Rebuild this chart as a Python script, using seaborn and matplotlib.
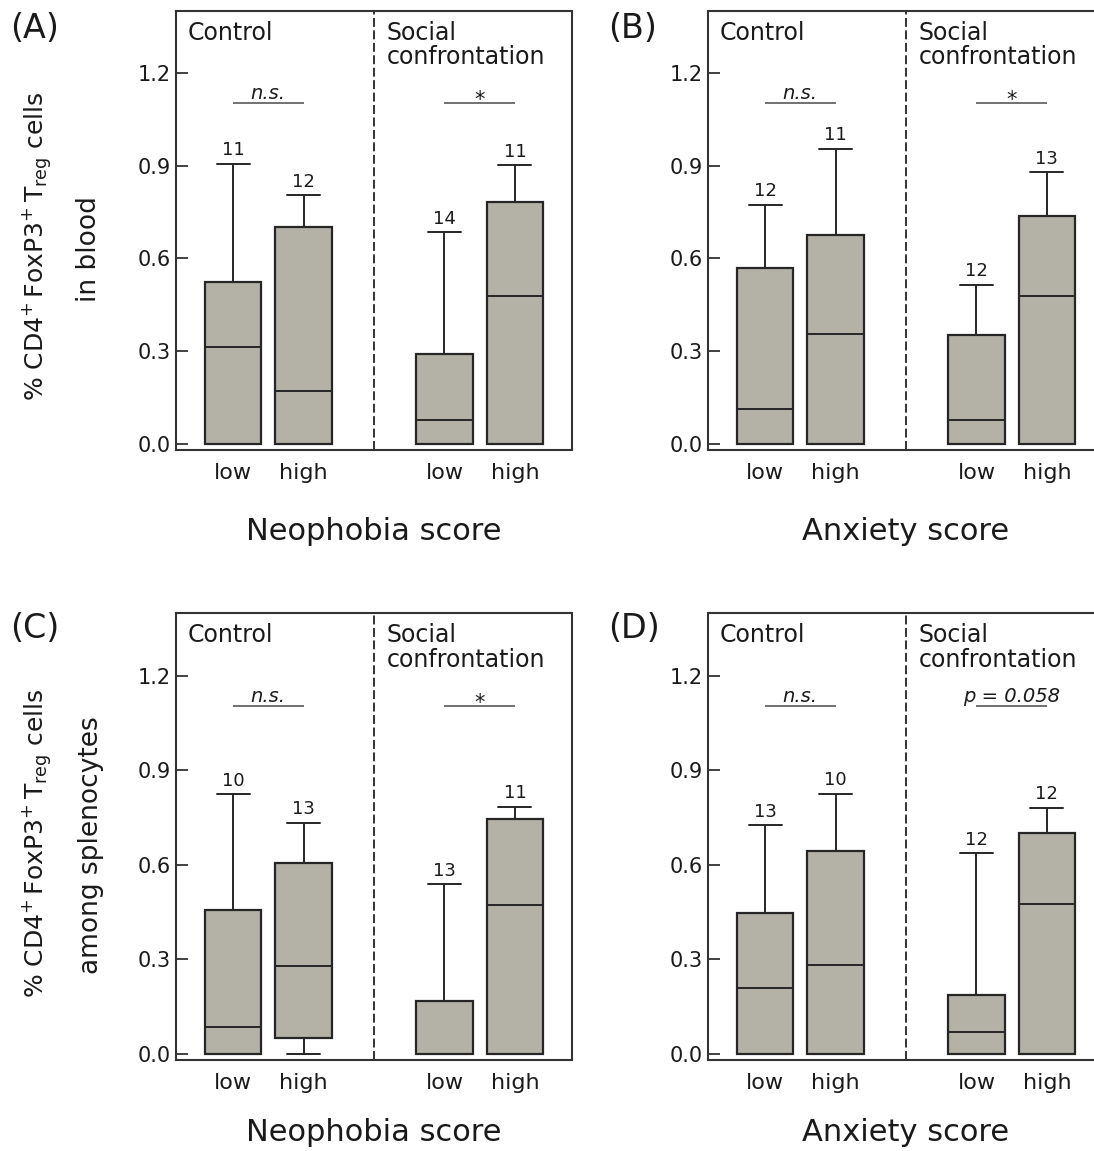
import matplotlib
matplotlib.use("Agg")
import matplotlib.pyplot as plt
import seaborn as sns

# ---------------- data ----------------
groups = ["low", "high", "low", "high"]
positions = [1, 2, 4, 5]

A_q1 = [0.0, 0.0, 0.0, 0.0]
A_med = [0.313, 0.171, 0.077, 0.479]
A_q3 = [0.525, 0.703, 0.292, 0.783]
A_whislo = [0.0, 0.0, 0.0, 0.0]
A_whishi = [0.906, 0.805, 0.684, 0.902]
A_n = [11, 12, 14, 11]

B_q1 = [0.0, 0.0, 0.0, 0.0]
B_med = [0.114, 0.355, 0.077, 0.477]
B_q3 = [0.570, 0.675, 0.352, 0.737]
B_whislo = [0.0, 0.0, 0.0, 0.0]
B_whishi = [0.774, 0.955, 0.515, 0.879]
B_n = [12, 11, 12, 13]

C_q1 = [0.0, 0.052, 0.0, 0.0]
C_med = [0.084, 0.279, 0.0, 0.472]
C_q3 = [0.456, 0.606, 0.169, 0.744]
C_whislo = [0.0, 0.0, 0.0, 0.0]
C_whishi = [0.823, 0.733, 0.538, 0.784]
C_n = [10, 13, 13, 11]

D_q1 = [0.0, 0.0, 0.0, 0.0]
D_med = [0.210, 0.281, 0.068, 0.477]
D_q3 = [0.447, 0.645, 0.188, 0.702]
D_whislo = [0.0, 0.0, 0.0, 0.0]
D_whishi = [0.725, 0.825, 0.636, 0.781]
D_n = [13, 10, 12, 12]

A_sig = ["n.s.", "*"]
B_sig = ["n.s.", "*"]
C_sig = ["n.s.", "*"]
D_sig = ["n.s.", "p = 0.058"]

panel_letters = ["(A)", "(B)", "(C)", "(D)"]
x_titles = ["Neophobia score", "Anxiety score", "Neophobia score", "Anxiety score"]
y_ticks = [0.0, 0.3, 0.6, 0.9, 1.2]
y_ticklabels = ["0.0", "0.3", "0.6", "0.9", "1.2"]
sig_level = 1.103

# ---------------- style ----------------
sns.set_theme(style="white")
plt.rcParams["font.family"] = ["DejaVu Sans"]
plt.rcParams["mathtext.default"] = "regular"

BOX_FACE = "#b4b2a7"
DARK = "#262626"
TXT = "#1a1a1a"

fig = plt.figure(figsize=(10.94, 11.51), dpi=100)
W, H = 1094.0, 1151.0


def px_axes(left, top, right, bottom):
    return fig.add_axes([left / W, 1 - bottom / H, (right - left) / W, (bottom - top) / H])


def draw_panel(ax, q1, med, q3, wlo, whi, ns, sig, xtitle, box_px, xlabel_base_px):
    stats = [dict(med=m, q1=a, q3=b, whislo=lo, whishi=hi, fliers=[])
             for a, m, b, lo, hi in zip(q1, med, q3, wlo, whi)]
    ax.bxp(stats, positions=positions, widths=0.8, capwidths=0.47,
           patch_artist=True, showfliers=False, manage_ticks=False,
           boxprops=dict(facecolor=BOX_FACE, edgecolor=DARK, linewidth=1.6),
           whiskerprops=dict(color=DARK, linewidth=1.4),
           capprops=dict(color=DARK, linewidth=1.4),
           medianprops=dict(color=DARK, linewidth=1.4))
    for p, hi, n in zip(positions, whi, ns):
        ax.text(p, hi + 0.027, str(n), ha="center", va="baseline", fontsize=13, color=TXT)

    ax.axvline(3, color="#333333", lw=1.4, ls=(0, (4.6, 1.8)))

    # group headers
    ax.text(0.36, 1.305, "Control", ha="left", va="baseline", fontsize=17, color=TXT)
    ax.text(3.18, 1.305, "Social", ha="left", va="baseline", fontsize=17, color=TXT)
    ax.text(3.18, 1.228, "confrontation", ha="left", va="baseline", fontsize=17, color=TXT)

    # significance bars
    for (x0, x1), s in zip([(1, 2), (4, 5)], sig):
        ax.plot([x0, x1], [sig_level, sig_level], color="#666666", lw=1.3,
                solid_capstyle="butt")
        xm = (x0 + x1) / 2
        if s == "*":
            ax.text(xm, 1.094, s, ha="center", va="baseline", fontsize=15, color=TXT)
        else:
            ax.text(xm, 1.117, s, ha="center", va="baseline", fontsize=14,
                    style="italic", color=TXT)

    ax.set_xlim(0.19, 5.81)
    ax.set_ylim(-0.018, 1.40)
    ax.set_yticks(y_ticks)
    ax.set_yticklabels(y_ticklabels)
    ax.set_xticks(positions)
    ax.set_xticklabels(groups)
    ax.tick_params(axis="y", direction="in", length=8.6, width=1.3, color="#333333",
                   pad=4, labelsize=15, labelcolor=TXT, left=True)
    ax.tick_params(axis="x", length=0, pad=10, labelsize=16, labelcolor=TXT, bottom=True)
    ax.set_xlabel(xtitle, fontsize=22, color=TXT)
    top_px, bottom_px = box_px
    ax.xaxis.set_label_coords(0.5, (bottom_px - xlabel_base_px) / (bottom_px - top_px))
    ax.xaxis.label.set_verticalalignment("baseline")
    ax.set_facecolor("white")
    for sp in ax.spines.values():
        sp.set_visible(True)
        sp.set_color("#333333")
        sp.set_linewidth(1.5)
    ax.grid(False)


axA = px_axes(176, 11, 572, 449.5)
axB = px_axes(708, 11, 1104, 449.5)
axC = px_axes(176, 612.5, 572, 1059.6)
axD = px_axes(708, 612.5, 1104, 1059.6)

draw_panel(axA, A_q1, A_med, A_q3, A_whislo, A_whishi, A_n, A_sig, x_titles[0], (11, 449.5), 540)
draw_panel(axB, B_q1, B_med, B_q3, B_whislo, B_whishi, B_n, B_sig, x_titles[1], (11, 449.5), 540)
draw_panel(axC, C_q1, C_med, C_q3, C_whislo, C_whishi, C_n, C_sig, x_titles[2], (612.5, 1059.6), 1141)
draw_panel(axD, D_q1, D_med, D_q3, D_whislo, D_whishi, D_n, D_sig, x_titles[3], (612.5, 1059.6), 1141)

# panel letters
for lab, (x, y) in zip(panel_letters, [(10, 28), (608, 28), (10, 629), (608, 629)]):
    fig.text(x / W, 1 - y / H, lab, ha="left", va="center", fontsize=24, color=TXT)

# y labels
line1 = r"% CD4$^{+}\,$FoxP3$^{+}\,$T$_{reg}$ cells"
fig.text(37 / W, 1 - 246 / H, line1, rotation=90, ha="center", va="center",
         fontsize=18, color=TXT)
fig.text(89 / W, 1 - 249 / H, "in blood", rotation=90, ha="center", va="center",
         fontsize=19, color=TXT)
fig.text(37 / W, 1 - 843 / H, line1, rotation=90, ha="center", va="center",
         fontsize=18, color=TXT)
fig.text(91 / W, 1 - 845 / H, "among splenocytes", rotation=90, ha="center", va="center",
         fontsize=19, color=TXT)

fig.savefig("out.png", dpi=100, facecolor="white")
